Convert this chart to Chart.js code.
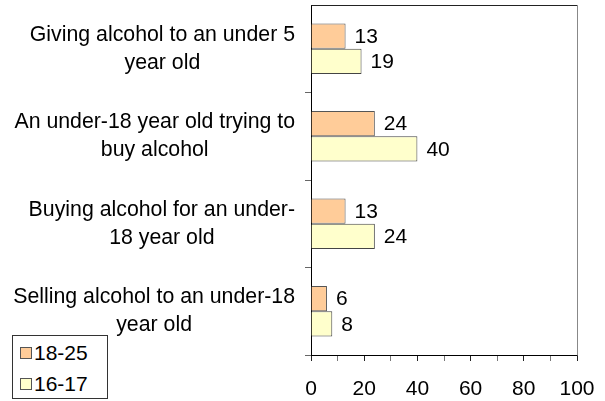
<!DOCTYPE html>
<html>
<head>
<meta charset="utf-8">
<script src="https://cdn.jsdelivr.net/npm/chart.js@4/dist/chart.umd.min.js"></script>
<style>
  html, body { margin: 0; padding: 0; background: #fff; }
  #wrap { position: relative; width: 605px; height: 401px; }
  #legend { position: absolute; left: 12px; top: 335px; width: 96px; height: 64px; border: 1px solid #333; background: #fff; box-sizing: border-box;
            font-family: "Liberation Sans", Arial, sans-serif; font-size: 21px; color: #000; }
  .item { position: absolute; left: 7px; display: flex; align-items: center; }
  .sw { width: 10px; height: 10px; border: 1px solid #555; margin-right: 2px; }
</style>
</head>
<body>
<div id="wrap">
  <canvas id="c" width="605" height="401"></canvas>
  <div id="legend"></div>
</div>
<script>
const categories = [
  ["Giving alcohol to an under 5", "year old"],
  ["An under-18 year old trying to", "buy alcohol"],
  ["Buying alcohol for an under-", "18 year old"],
  ["Selling alcohol to an under-18", "year old"]
];
const seriesNames = ["18-25", "16-17"];
const values1825 = [13, 24, 13, 6];
const values1617 = [19, 40, 24, 8];
const xMin = 0, xMax = 100, xStep = 10, xLabelEvery = 20;

const FONT = '"Liberation Sans", Arial, sans-serif';
const colors = ['#FFCC99', '#FFFFCC'];

const categoryLabelsPlugin = {
  id: 'catLabels',
  afterDraw(chart) {
    const ctx = chart.ctx, ys = chart.scales.y;
    ctx.save();
    ctx.font = '21.3px ' + FONT;
    ctx.fillStyle = '#000';
    ctx.textAlign = 'center';
    ctx.textBaseline = 'middle';
    const right = chart.chartArea.left - 16;
    const lineH = 28;
    categories.forEach((lines, i) => {
      const w = Math.max(...lines.map(l => ctx.measureText(l).width));
      const cx = right - w / 2;
      const yc = ys.getPixelForValue(i);
      lines.forEach((l, j) => ctx.fillText(l, cx, yc + (j - (lines.length - 1) / 2) * lineH));
    });
    ctx.restore();
  }
};

const valueLabelsPlugin = {
  id: 'valLabels',
  afterDatasetsDraw(chart) {
    const ctx = chart.ctx;
    ctx.save();
    ctx.font = '21px ' + FONT;
    ctx.fillStyle = '#000';
    ctx.textAlign = 'left';
    ctx.textBaseline = 'middle';
    chart.data.datasets.forEach((ds, di) => {
      chart.getDatasetMeta(di).data.forEach((bar, i) => {
        ctx.fillText(String(ds.data[i]), bar.x + 9, bar.y + 1);
      });
    });
    ctx.restore();
  }
};

const frameBoxPlugin = {
  id: 'frameBox',
  afterDraw(chart) {
    const { ctx, chartArea: a } = chart;
    ctx.save();
    ctx.lineWidth = 1;
    ctx.strokeStyle = '#222';
    ctx.beginPath();
    ctx.moveTo(Math.round(a.left) + 0.5, Math.round(a.top) + 0.5);
    ctx.lineTo(Math.round(a.right) + 0.5, Math.round(a.top) + 0.5);
    ctx.stroke();
    ctx.strokeStyle = '#888';
    ctx.beginPath();
    ctx.moveTo(Math.round(a.right) + 0.5, Math.round(a.top) + 0.5);
    ctx.lineTo(Math.round(a.right) + 0.5, Math.round(a.bottom) + 0.5);
    ctx.stroke();
    ctx.restore();
  }
};

new Chart(document.getElementById('c'), {
  type: 'bar',
  data: {
    labels: categories,
    datasets: [
      { label: seriesNames[0], data: values1825, backgroundColor: colors[0], borderColor: '#555', borderWidth: 1 },
      { label: seriesNames[1], data: values1617, backgroundColor: colors[1], borderColor: '#444', borderWidth: 1 }
    ]
  },
  options: {
    indexAxis: 'y',
    responsive: false,
    animation: false,
    devicePixelRatio: 1,
    layout: { padding: { top: 5, right: 28, left: 0, bottom: 0 } },
    categoryPercentage: 0.575,
    barPercentage: 1.0,
    plugins: { legend: { display: false }, tooltip: { enabled: false } },
    scales: {
      x: {
        min: xMin, max: xMax,
        afterFit(s) { s.height = 46; s.paddingLeft = 0; s.paddingRight = 0; },
        ticks: {
          stepSize: xStep, autoSkip: false, maxRotation: 0, padding: 16,
          color: '#000', font: { family: FONT, size: 21 },
          callback: v => (v % xLabelEvery === 0 ? String(v) : '')
        },
        grid: { drawOnChartArea: false, drawTicks: true, tickLength: 6,
                color: c => (c.tick && c.tick.value % xLabelEvery === 0 ? '#222' : '#777') },
        border: { display: true, color: '#000', width: 1 }
      },
      y: {
        afterFit(s) { s.width = 311; s.paddingTop = 0; s.paddingBottom = 0; },
        ticks: { display: false },
        grid: { drawOnChartArea: false, drawTicks: true, tickLength: 6, offset: true,
                color: c => (c.index === 0 ? 'rgba(0,0,0,0)' : '#666') },
        border: { display: true, color: '#000', width: 1 }
      }
    }
  },
  plugins: [categoryLabelsPlugin, valueLabelsPlugin, frameBoxPlugin]
});

// HTML legend built from the datasets
const legend = document.getElementById('legend');
seriesNames.forEach((name, i) => {
  const it = document.createElement('div');
  it.className = 'item';
  it.style.top = (i === 0 ? 5 : 36) + 'px';
  const sw = document.createElement('div');
  sw.className = 'sw';
  sw.style.background = colors[i];
  const tx = document.createElement('span');
  tx.textContent = name;
  it.appendChild(sw); it.appendChild(tx);
  legend.appendChild(it);
});
</script>
</body>
</html>
